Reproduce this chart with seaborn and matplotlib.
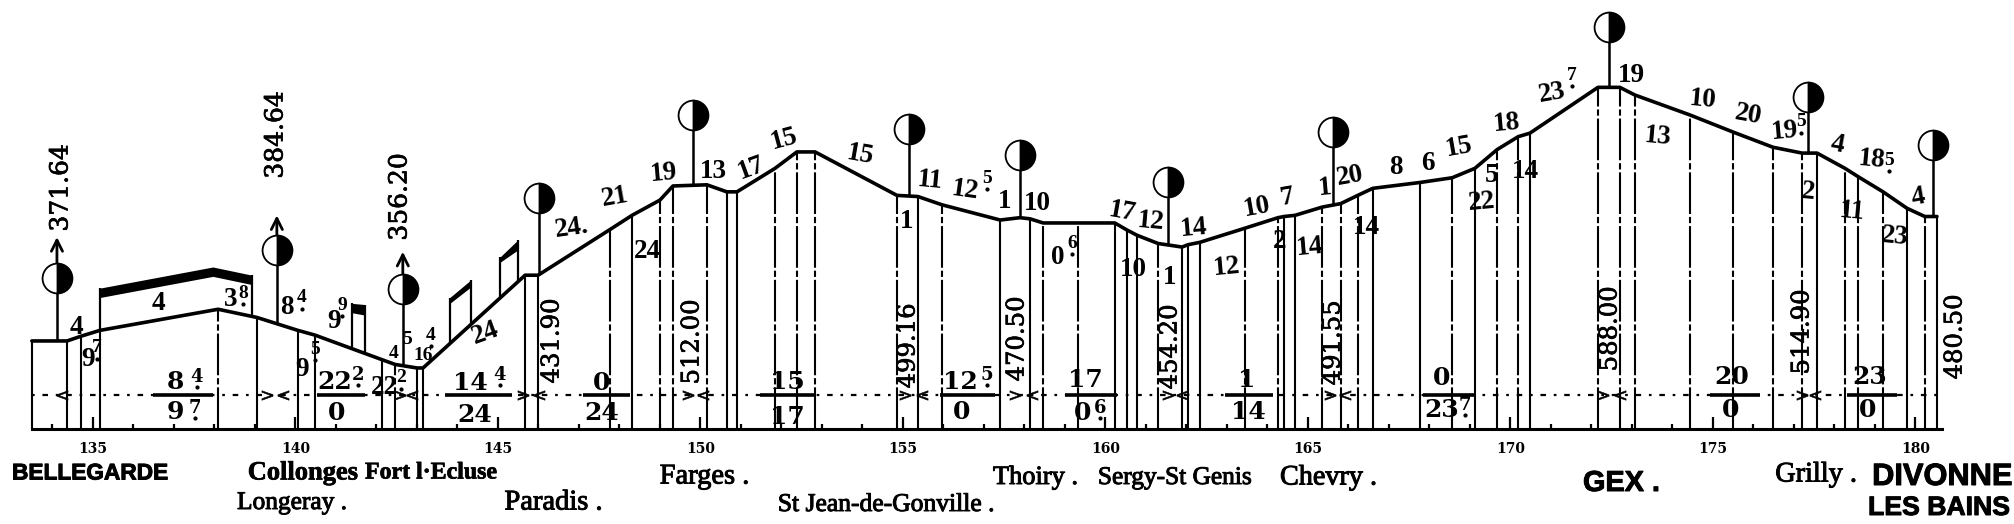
import numpy as np
import pandas as pd
import matplotlib
matplotlib.use("Agg")
import matplotlib.pyplot as plt
import matplotlib.patheffects as pe
import seaborn as sns

# profil en long: kilometres et altitudes (m)
profil_km = [133.49, 134.36, 134.70, 135.17, 138.09, 139.05, 140.06, 140.48, 142.14, 142.46, 143.00, 143.15,
             145.67, 145.99, 147.77, 148.31, 149.00, 149.32, 150.16, 150.65, 150.90, 151.84, 152.38, 152.83,
             154.85, 155.37, 155.96, 157.40, 157.89, 158.14, 158.46, 159.32, 160.23, 160.53, 160.78, 161.30,
             161.89, 162.04, 162.33, 163.44, 164.26, 164.41, 164.68, 165.35, 165.81, 166.23, 166.60, 167.77,
             168.56, 169.12, 169.67, 170.19, 170.48, 172.16, 172.70, 173.07, 174.43, 175.49, 176.48, 177.20,
             177.57, 178.26, 178.58, 179.20, 179.79, 180.23, 180.53]
profil_alt = [375, 375, 379, 384, 402, 395, 384, 380, 359, 355, 352, 352,
              431, 431, 470, 482, 495, 507, 508, 502, 502, 522, 536, 536,
              499, 498, 491, 478, 480, 479, 475.5, 475.5, 475.5, 469.5, 465, 458,
              455, 457, 459, 471, 480, 481, 482, 489, 492, 499, 505, 510,
              514, 522, 538, 549, 552, 591, 591, 584.5, 567.5, 553, 540, 535,
              535, 522, 515, 502, 488, 481, 481]
# trait de chaque verticale: s plein, d mixte, n aucun
profil_trait = ["s", "s", "s", "s", "d", "s", "s", "s", "s", "d", "s", "s",
                "s", "s", "d", "s", "d", "d", "d", "s", "s", "d", "d", "d",
                "d", "s", "d", "s", "n", "s", "d", "d", "s", "s", "s", "d",
                "s", "s", "s", "d", "d", "s", "s", "d", "d", "d", "s", "s",
                "d", "s", "d", "d", "s", "d", "d", "d", "d", "d", "d", "d",
                "s", "d", "d", "d", "s", "d", "s"]

# gares
gare_km = [134.11, 139.54, 142.65, 146.01, 149.81, 155.15, 157.89, 161.54, 165.62, 172.43, 177.35, 180.43]
disque_alt = [429, 452.5, 419, 497, 567.5, 555.5, 533.4, 510.4, 553, 642.4, 582.8, 542]
fleche_km = [134.11, 139.54, 142.65]
fleche_alt = [463.5, 482, 451]

# souterrains
tunnel_km = [[135.17, 137.96, 138.93], [141.40, 141.72], [143.81, 144.33], [145.05, 145.49]]
tunnel_haut = [[420, 438, 431], [407, 406], [412, 427], [446.5, 461]]
tunnel_bas = [[412, 430, 423], [399, 397], [407, 421], [442, 452.5]]

# barres des fractions et sens de marche
barre_debut = [136.48, 140.53, 143.69, 147.10, 151.47, 155.91, 159.00, 162.95, 167.84, 174.93, 178.31]
barre_fin = [137.96, 141.72, 145.35, 148.26, 152.83, 157.27, 160.28, 164.14, 169.12, 176.16, 179.54]
fleche_g = [134.23, 139.69, 142.88, 146.01, 150.06, 155.47, 158.19, 161.89, 165.91, 172.70, 177.52]
fleche_d = [139.30, 142.58, 145.62, 149.69, 155.05, 157.77, 161.54, 165.54, 172.28, 177.20]

cotes_sommet = ["371.64", "384.64", "356.20"]
cotes = ["431.90", "512.00", "499.16", "470.50", "454.20", "491.55", "588.00", "514.90", "480.50"]
pentes = ["4", "9", "4", "3", "8", "9", "9", "22", "24",
          "24.", "21", "24", "19", "13", "17", "15", "15", "1", "11", "12", "1",
          "10", "0", "17", "12", "14", "10", "1", "12", "10", "7", "2", "14", "1", "20", "14",
          "8", "6", "15", "22", "5", "18", "23", "14", "19", "13", "10", "20", "19", "4", "18",
          "2", "11", "23", "4"]
petites_pentes = ["4", "5", "16"]
exposants = ["7", "8", "4", "9", "5", "2", "4", "5", "6", "7", "5", "5"]
numerateurs = ["8", "22", "14", "0", "15", "12", "17", "1", "0", "20", "23"]
denominateurs = ["9", "0", "24", "24", "17", "0", "0", "14", "23", "0", "0"]
exposants_frac = ["4", "7", "2", "4", "5", "6", "7"]
noms_gras = ["BELLEGARDE", "GEX .", "DIVONNE", "LES BAINS"]
noms_serif = ["Collonges", "Fort l·Ecluse"]
noms_fins = ["Farges .", "Thoiry .", "Sergy-St Genis", "Chevry .", "Grilly .",
             "Longeray .", "Paradis .", "St Jean-de-Gonville ."]

# mise en page, en pixels de l'image
W, H = 2015, 524
pos_sommet = [(61, 188), (276, 135), (400, 197)]
pos_cotes = [(552, 341), (692, 342), (908, 346), (1017, 339), (1170, 347), (1333, 343), (1610, 329), (1802, 332), (1955, 337)]
pos_pentes = [(76, 328, 0), (88, 360, 0), (158, 303, 0), (231, 300, 0), (287, 308, 0), (334, 322, 0), (302, 370, 0),
              (384, 387, 0), (485, 333, 20),
              (572, 228, 8), (615, 197, 10), (647, 252, 0), (664, 173, 5), (713, 171, 0), (751, 168, 20), (784, 139, 15),
              (860, 155, -10), (907, 222, 0), (930, 181, -5), (965, 190, -8), (1005, 202, 0),
              (1037, 204, 0), (1058, 258, 0), (1122, 212, -10), (1151, 222, -5), (1194, 228, 5), (1133, 270, 0),
              (1170, 277, 0), (1227, 267, 5), (1257, 207, 10), (1287, 197, 10), (1280, 242, 0), (1310, 247, 5),
              (1325, 188, 5), (1350, 176, 10), (1366, 228, 0), (1396, 168, 0), (1428, 163, 0), (1459, 147, 10),
              (1482, 202, 5), (1492, 175, 0), (1507, 123, 5), (1552, 93, 10), (1525, 172, 0), (1631, 75, 0),
              (1658, 137, -5), (1703, 100, -5), (1748, 115, -10), (1785, 131, 5), (1837, 145, -10), (1872, 160, -5),
              (1808, 192, -5), (1852, 212, -5), (1895, 237, -5), (1918, 197, 10)]
pos_petites = [(394, 354), (407, 339), (423, 355)]
pos_exposants = [(97, 348), (243, 293), (302, 298), (342, 305), (315, 349), (401, 378), (431, 335), (987, 178),
                 (1072, 243), (1572, 75), (1801, 122), (1889, 160)]
pos_num = [(175, 382), (335, 382), (470, 383), (602, 383), (787, 382), (960, 382), (1085, 380), (1247, 380), (1442, 378), (1732, 377), (1870, 377)]
pos_den = [(175, 412), (337, 413), (475, 415), (602, 413), (787, 417), (962, 412), (1083, 413), (1248, 412), (1442, 410), (1731, 410), (1868, 410)]
pos_exp_frac = [(197, 377), (195, 408), (358, 375), (500, 375), (987, 375), (1100, 408), (1465, 405)]
pos_gras = [(12, 168, 473), (1583, 1660, 483), (1872, 2012, 477), (1868, 2010, 508)]
pos_serif = [(248, 358, 473), (365, 497, 473)]
pos_fins = [(652, 757, 477), (993, 1078, 478), (1098, 1252, 478), (1280, 1377, 478), (1775, 1857, 475),
            (237, 347, 503), (500, 607, 503), (778, 995, 505)]

sns.set_theme(style="white")
plt.rcParams["font.family"] = ["Liberation Serif", "DejaVu Serif"]

fig = plt.figure(figsize=(W / 100, H / 100), dpi=100, facecolor="white")
ax = fig.add_axes([0, 0, 1, 1], facecolor="white")
ax.set_xlim(132.704, 182.457)
ax.set_ylim(219.1, 665.4)

# ligne de base et kilometres
ax.spines[["top", "left", "right"]].set_visible(False)
ax.spines["bottom"].set_position(("data", 300))
ax.spines["bottom"].set_bounds(133.49, 180.65)
ax.spines["bottom"].set_linewidth(2.2)
ax.spines["bottom"].set_color("black")
ax.set_yticks([])
ax.set_xticks(np.arange(135, 181, 5))
ax.set_xticks(np.arange(134, 181, 1), minor=True)
ax.tick_params(axis="x", which="major", direction="in", length=8.5, width=1.6, color="black", pad=9, bottom=True)
ax.tick_params(axis="x", which="minor", direction="in", length=3.6, width=1.6, color="black", bottom=True)
for lab in ax.get_xticklabels():
    lab.set_fontfamily("DejaVu Serif")
    lab.set_fontweight("bold")
    lab.set_fontsize(10)
    lab.set_color("black")

# verticales
df = pd.DataFrame({"km": profil_km, "alt": profil_alt, "trait": profil_trait})
pleines = df[df["trait"] == "s"]
mixtes = df[df["trait"] == "d"]
ax.vlines(pleines["km"], 300, pleines["alt"], color="black", lw=1.5)
ax.vlines(mixtes["km"], 300, mixtes["alt"], color="black", lw=1.5, linestyles=[(0, (20, 1.4, 3, 1.4))])

# ligne des sens de marche
ax.plot([133.49, 180.53], [329, 329], color="black", lw=1.6, ls=(0, (1.2, 3.5, 2.5, 3.5)))
ax.hlines([329] * len(barre_debut), barre_debut, barre_fin, color="black", lw=2.6)
ax.plot(fleche_g, [329] * len(fleche_g), ls="", marker="$<$", ms=8, color="black", mew=0.4)
ax.plot(fleche_d, [329] * len(fleche_d), ls="", marker="$>$", ms=8, color="black", mew=0.4)

# souterrains
for km, haut, bas in zip(tunnel_km, tunnel_haut, tunnel_bas):
    ax.fill_between(km, bas, haut, color="black", lw=0)
    pied = np.interp([km[0], km[-1]], profil_km, profil_alt)
    ax.vlines([km[0], km[-1]], pied, [haut[0], haut[-1]], color="black", lw=1.6)

# profil
sns.lineplot(data=df, x="km", y="alt", sort=False, estimator=None, color="black", lw=2.6, ax=ax)
ax.set_xlabel("")
ax.set_ylabel("")

# gares: mat et disque
pieds = np.interp(gare_km, profil_km, profil_alt)
ax.vlines(gare_km, pieds, disque_alt, color="black", lw=1.8)
ax.plot(gare_km, disque_alt, ls="", marker="o", ms=21.5, fillstyle="right", markerfacecolor="black",
        markerfacecoloralt="white", markeredgecolor="black", mew=1.3, zorder=5)
for km, alt, base in zip(fleche_km, fleche_alt, disque_alt):
    ax.annotate("", xy=(km, alt), xytext=(km, base),
                arrowprops=dict(arrowstyle="->", color="black", lw=2, mutation_scale=20, shrinkA=0, shrinkB=0))


def put(x, y, s, encre=0.0, **kw):
    # encre: epaissit le trait comme sur le tirage d'origine
    t = fig.text(x / W, 1 - y / H, s, ha="center", va="center", color="black", **kw)
    if encre:
        t.set_path_effects([pe.withStroke(linewidth=encre, foreground="black")])
    return t


def ajuste(x0, x1, y, s, taille_max=40, **kw):
    # taille de police choisie pour tenir entre x0 et x1
    t = put((x0 + x1) / 2, y, s, fontsize=20, **kw)
    largeur = t.get_window_extent(fig.canvas.get_renderer()).width
    t.set_fontsize(min(taille_max, 20 * (x1 - x0) / largeur))
    return t


def point(x, y):
    # le petit point sous les exposants
    ax.plot([x / W], [1 - y / H], transform=fig.transFigure, marker="o", ms=2, color="black", ls="")


for s, (x, y) in zip(cotes_sommet, pos_sommet):
    put(x, y, s, encre=0.5, rotation=90, fontsize=18, family="DejaVu Serif")
for s, (x, y) in zip(cotes, pos_cotes):
    put(x, y, s, encre=0.5, rotation=90, fontsize=17.5, family="DejaVu Serif")
for s, (x, y, r) in zip(pentes, pos_pentes):
    put(x, y, s, rotation=r, fontsize=19.5, fontweight="bold")
for s, (x, y) in zip(petites_pentes, pos_petites):
    put(x, y, s, fontsize=14, fontweight="bold")
for s, (x, y) in zip(exposants, pos_exposants):
    put(x, y, s, fontsize=14, fontweight="bold")
    point(x, y + 11)
for s, (x, y) in zip(numerateurs, pos_num):
    put(x, y, s, fontsize=18, fontweight="bold", family="DejaVu Serif")
for s, (x, y) in zip(denominateurs, pos_den):
    put(x, y, s, fontsize=18, fontweight="bold", family="DejaVu Serif")
for s, (x, y) in zip(exposants_frac, pos_exp_frac):
    put(x, y, s, fontsize=13, fontweight="bold", family="DejaVu Serif")
    point(x, y + 10)
for s, (x0, x1, y) in zip(noms_gras, pos_gras):
    ajuste(x0, x1, y, s, encre=0.7, fontweight="bold", family="Liberation Sans")
for s, (x0, x1, y) in zip(noms_serif, pos_serif):
    ajuste(x0, x1, y, s, encre=0.5, fontweight="bold")
for s, (x0, x1, y) in zip(noms_fins, pos_fins):
    ajuste(x0, x1, y, s, taille_max=20.5, encre=0.7)

fig.savefig("out.png", dpi=100, facecolor="white")
